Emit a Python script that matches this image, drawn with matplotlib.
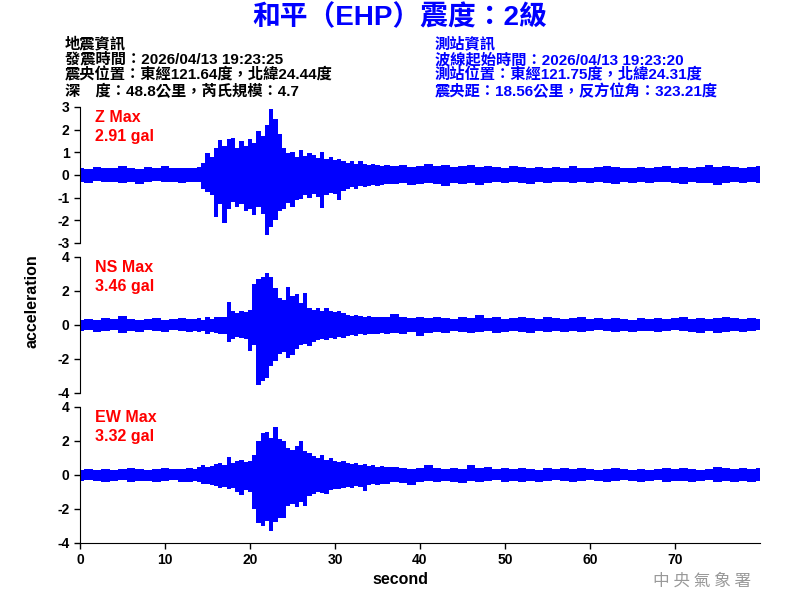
import numpy as np
import matplotlib
matplotlib.use("Agg")
import matplotlib.pyplot as plt

# sample times: 1 s steps before/after the shaking, 0.5 s steps during it
t = np.concatenate([np.arange(0, 14), np.arange(13.5, 36.01, 0.5), np.arange(37, 81)])

# envelope (max / min per sample window) read from the record, gal
z_up = [0.3, 0.28, 0.35, 0.3, 0.33, 0.4, 0.3, 0.28, 0.35, 0.3, 0.38, 0.3, 0.3, 0.32,
        # 13.5 .. 36.0
        0.3, 0.35, 0.55, 0.95, 0.8, 1.2, 1.55, 1.3, 1.6, 1.65,
        1.2, 1.5, 1.3, 1.6, 1.4, 1.95, 1.7, 2.2, 2.9, 2.45,
        1.8, 1.2, 0.95, 1.0, 0.8, 1.1, 0.85, 0.95, 0.9, 0.75,
        1.0, 0.7, 0.8, 0.65, 0.7, 0.6, 0.55, 0.6, 0.5, 0.6,
        0.5, 0.45, 0.5, 0.45, 0.4, 0.45,
        # 37 .. 80
        0.4, 0.45, 0.35, 0.4, 0.5, 0.4, 0.45, 0.35, 0.4, 0.45,
        0.35, 0.4, 0.35, 0.3, 0.4, 0.35, 0.3, 0.35, 0.3, 0.35,
        0.3, 0.4, 0.3, 0.3, 0.35, 0.4, 0.35, 0.3, 0.3, 0.35,
        0.3, 0.35, 0.4, 0.3, 0.35, 0.3, 0.35, 0.45, 0.35, 0.4,
        0.35, 0.3, 0.35, 0.4]
z_lo = [-0.3, -0.35, -0.28, -0.32, -0.3, -0.35, -0.3, -0.4, -0.3, -0.28, -0.32, -0.3, -0.35, -0.3,
        -0.3, -0.3, -0.6, -0.75, -0.9, -1.85, -1.3, -2.1, -1.5, -1.2,
        -1.4, -1.3, -1.6, -1.5, -1.75, -1.4, -1.7, -2.65, -2.3, -2.0,
        -1.6, -1.5, -1.25, -1.4, -1.1, -1.05, -0.9, -1.0, -0.85, -0.95,
        -1.45, -0.9, -0.8, -0.85, -1.1, -0.7, -0.6, -0.55, -0.6, -0.5,
        -0.55, -0.5, -0.45, -0.5, -0.45, -0.4,
        -0.4, -0.35, -0.45, -0.4, -0.35, -0.4, -0.5, -0.35, -0.4, -0.35,
        -0.45, -0.35, -0.3, -0.35, -0.3, -0.35, -0.4, -0.3, -0.35, -0.3,
        -0.3, -0.35, -0.3, -0.35, -0.3, -0.35, -0.4, -0.3, -0.35, -0.3,
        -0.35, -0.3, -0.3, -0.35, -0.4, -0.3, -0.35, -0.35, -0.45, -0.35,
        -0.3, -0.35, -0.3, -0.35]

ns_up = [0.3, 0.35, 0.3, 0.4, 0.35, 0.55, 0.35, 0.3, 0.35, 0.4, 0.3, 0.35, 0.4, 0.35,
         0.35, 0.4, 0.3, 0.45, 0.35, 0.5, 0.45, 0.5, 1.35, 0.8,
         0.7, 0.8, 0.75, 0.9, 2.4, 2.7, 2.85, 3.05, 2.8, 2.2,
         1.6, 1.5, 2.25, 1.7, 1.85, 1.3, 1.9, 1.0, 0.9, 1.0,
         0.85, 1.0, 0.8, 0.75, 0.8, 0.7, 0.6, 0.55, 0.6, 0.55,
         0.5, 0.55, 0.5, 0.45, 0.5, 0.45,
         0.65, 0.45, 0.4, 0.5, 0.4, 0.45, 0.4, 0.35, 0.45, 0.4,
         0.6, 0.4, 0.45, 0.35, 0.4, 0.5, 0.4, 0.35, 0.45, 0.4,
         0.35, 0.4, 0.45, 0.35, 0.4, 0.35, 0.4, 0.35, 0.3, 0.4,
         0.35, 0.4, 0.35, 0.4, 0.45, 0.35, 0.4, 0.35, 0.4, 0.5,
         0.4, 0.35, 0.4, 0.35]
ns_lo = [-0.35, -0.3, -0.4, -0.35, -0.3, -0.45, -0.35, -0.4, -0.3, -0.35, -0.4, -0.3, -0.35, -0.4,
         -0.35, -0.4, -0.35, -0.5, -0.4, -0.45, -0.5, -0.5, -1.0, -0.8,
         -0.7, -0.75, -0.8, -1.55, -1.2, -3.5, -3.3, -3.1, -2.4, -2.1,
         -1.7, -1.6, -1.95, -1.75, -1.4, -1.2, -1.1, -1.25, -1.0, -0.9,
         -0.85, -0.9, -0.75, -0.8, -0.7, -0.75, -0.65, -0.6, -0.65, -0.55,
         -0.6, -0.5, -0.55, -0.5, -0.45, -0.5,
         -0.45, -0.5, -0.4, -0.65, -0.45, -0.4, -0.45, -0.35, -0.4, -0.45,
         -0.4, -0.35, -0.45, -0.4, -0.35, -0.4, -0.45, -0.35, -0.4, -0.35,
         -0.4, -0.35, -0.4, -0.35, -0.3, -0.35, -0.4, -0.35, -0.4, -0.35,
         -0.35, -0.4, -0.35, -0.3, -0.35, -0.4, -0.45, -0.35, -0.45, -0.4,
         -0.35, -0.4, -0.35, -0.3]

ew_up = [0.3, 0.35, 0.3, 0.35, 0.3, 0.35, 0.4, 0.35, 0.3, 0.35, 0.4, 0.35, 0.35, 0.4,
         0.35, 0.45, 0.6, 0.5, 0.55, 0.65, 0.7, 0.6, 1.05, 0.7,
         0.8, 0.9, 0.75, 0.8, 1.2, 2.0, 2.45, 2.55, 2.2, 2.85,
         2.1, 2.0, 1.6, 1.5, 1.7, 2.0, 1.4, 1.3, 1.1, 1.0,
         1.15, 0.9, 1.0, 0.8, 0.75, 0.8, 0.7, 0.65, 0.7, 0.6,
         0.65, 0.55, 0.6, 0.5, 0.55, 0.5,
         0.45, 0.4, 0.35, 0.4, 0.6, 0.4, 0.35, 0.4, 0.35, 0.6,
         0.4, 0.45, 0.35, 0.4, 0.35, 0.4, 0.35, 0.3, 0.4, 0.35,
         0.4, 0.35, 0.4, 0.35, 0.3, 0.35, 0.4, 0.35, 0.3, 0.35,
         0.3, 0.35, 0.4, 0.35, 0.4, 0.35, 0.3, 0.35, 0.45, 0.4,
         0.35, 0.4, 0.35, 0.4]
ew_lo = [-0.35, -0.3, -0.35, -0.4, -0.35, -0.3, -0.4, -0.35, -0.35, -0.4, -0.35, -0.3, -0.4, -0.4,
         -0.35, -0.4, -0.55, -0.5, -0.6, -0.65, -0.75, -0.7, -0.8, -0.75,
         -1.0, -1.2, -0.9, -1.0, -2.0, -2.85, -3.0, -2.7, -3.3, -2.75,
         -2.5, -2.55, -1.8, -1.7, -1.9, -1.6, -1.85, -1.25, -1.1, -1.0,
         -1.05, -1.1, -0.9, -0.85, -0.8, -0.75, -0.7, -0.75, -0.65, -0.7,
         -0.95, -0.6, -0.55, -0.6, -0.5, -0.55,
         -0.4, -0.45, -0.6, -0.4, -0.35, -0.4, -0.35, -0.4, -0.45, -0.35,
         -0.4, -0.35, -0.3, -0.4, -0.35, -0.4, -0.35, -0.4, -0.35, -0.3,
         -0.35, -0.4, -0.35, -0.3, -0.35, -0.4, -0.35, -0.3, -0.35, -0.4,
         -0.35, -0.3, -0.4, -0.35, -0.35, -0.4, -0.35, -0.3, -0.4, -0.35,
         -0.4, -0.35, -0.4, -0.35]

components = ["Z", "NS", "EW"]
max_gal = ["2.91", "3.46", "3.32"]
y_limits = [3, 4, 4]
y_steps = [1, 2, 2]
x_ticks = [0, 10, 20, 30, 40, 50, 60, 70]

left_info = ["地震資訊",
             "發震時間：2026/04/13 19:23:25",
             "震央位置：東經121.64度，北緯24.44度",
             "深　度：48.8公里，芮氏規模：4.7"]
right_info = ["測站資訊",
              "波線起始時間：2026/04/13 19:23:20",
              "測站位置：東經121.75度，北緯24.31度",
              "震央距：18.56公里，反方位角：323.21度"]

FAM = ["Liberation Sans", "Noto Sans CJK TC", "DejaVu Sans"]
BLUE = "#0000FF"

fig = plt.figure(figsize=(8, 6), dpi=100)

fig.text(0.5, 0.97, "和平（EHP）震度：2級", ha="center", va="center",
         fontsize=20, fontweight="bold", color=BLUE, family=FAM)

for i in range(4):
    y = 1 - (44 + 15.7 * i) / 600
    fig.text(65 / 800, y, left_info[i], ha="left", va="center",
             fontsize=11, fontweight="bold", color="black", family=FAM)
    fig.text(435 / 800, y, right_info[i], ha="left", va="center",
             fontsize=11, fontweight="bold", color=BLUE, family=FAM)

ups = [z_up, ns_up, ew_up]
los = [z_lo, ns_lo, ew_lo]
bottoms = [1 - 243 / 600, 1 - 393 / 600, 1 - 543 / 600]

for k in range(3):
    ax = fig.add_axes([0.1, bottoms[k], 0.85, 136 / 600])
    ax.fill_between(t, los[k], ups[k], step="mid", color=BLUE, lw=0)
    lim = y_limits[k]
    ax.set_xlim(0, 80)
    ax.set_ylim(-lim, lim)
    yt = list(range(-lim, lim + 1, y_steps[k]))
    ax.set_yticks(yt, [str(v) for v in yt], fontweight="bold", fontsize=10, family=FAM)
    ax.spines["top"].set_visible(False)
    ax.spines["right"].set_visible(False)
    ax.tick_params(axis="y", direction="out", length=4, width=1)
    if k < 2:
        ax.spines["bottom"].set_visible(False)
        ax.tick_params(axis="x", bottom=False, labelbottom=False)
    else:
        ax.set_xticks(x_ticks, [str(v) for v in x_ticks], fontweight="bold", fontsize=10, family=FAM)
        ax.tick_params(axis="x", direction="out", length=4, width=1)
    ax.text(0.022, 0.975, f"{components[k]} Max\n{max_gal[k]} gal", transform=ax.transAxes,
            ha="left", va="top", color="red", fontsize=11.5, fontweight="bold",
            family=FAM, linespacing=1.3)

fig.text(32 / 800, 1 - 301 / 600, "acceleration", rotation=90, ha="center", va="center",
         fontsize=11.5, fontweight="bold", family=FAM)
fig.text(0.5, 1 - 580 / 600, "second", ha="center", va="center",
         fontsize=11.5, fontweight="bold", family=FAM)
fig.text(702 / 800, 1 - 581 / 600, "中 央 氣 象 署", ha="center", va="center",
         fontsize=12, color="#999999", family=["Noto Sans CJK TC"])

fig.savefig("out.png", dpi=100)
